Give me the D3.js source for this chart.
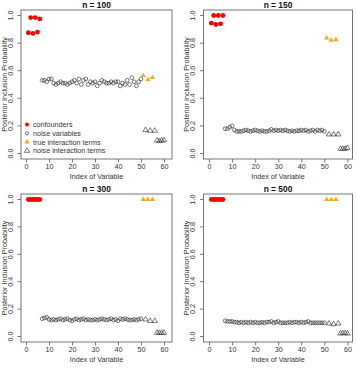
<!DOCTYPE html>
<html><head><meta charset="utf-8">
<script src="https://cdn.jsdelivr.net/npm/d3@7"></script>
<style>body{margin:0;background:#fff}svg{display:block}text{font-family:"Liberation Sans",Arial,sans-serif}</style>
</head><body>
<script>
const titles = ["n = 100", "n = 150", "n = 300", "n = 500"];
const xTicks = [0, 10, 20, 30, 40, 50, 60];
const yTicks = [0, 0.2, 0.4, 0.6, 0.8, 1.0];
const legendLabels = ["confounders", "noise variables", "true interaction terms", "noise interaction terms"];

const confIdx = [1, 2, 3, 4, 5, 6];
const noiseIdx = d3.range(7, 51);
const trueIntIdx = [51, 53, 55];
const noiseIntIdx = [52, 54, 56, 57, 58, 59, 60];

const conf100 = [0.875, 0.985, 0.87, 0.985, 0.88, 0.975];
const conf150 = [0.945, 1.0, 0.935, 1.0, 0.94, 1.0];
const conf300 = [1, 1, 1, 1, 1, 1];
const conf500 = [1, 1, 1, 1, 1, 1];

const noise100 = [0.53,0.53,0.52,0.54,0.54,0.51,0.50,0.51,0.52,0.51,0.51,0.50,0.51,0.52,0.53,0.51,0.54,0.50,0.53,0.54,0.50,0.52,0.51,0.52,0.49,0.51,0.53,0.52,0.51,0.51,0.52,0.51,0.52,0.52,0.49,0.51,0.50,0.53,0.50,0.55,0.52,0.49,0.52,0.54];
const noise150 = [0.18,0.18,0.19,0.20,0.17,0.16,0.16,0.16,0.165,0.17,0.165,0.16,0.165,0.17,0.165,0.16,0.165,0.16,0.16,0.165,0.175,0.165,0.17,0.165,0.17,0.165,0.17,0.165,0.16,0.165,0.16,0.165,0.165,0.17,0.165,0.17,0.16,0.165,0.17,0.16,0.17,0.165,0.17,0.16];
const noise300 = [0.13,0.135,0.14,0.125,0.12,0.125,0.12,0.125,0.13,0.12,0.125,0.13,0.12,0.115,0.125,0.13,0.12,0.125,0.13,0.12,0.125,0.12,0.12,0.125,0.12,0.125,0.13,0.125,0.12,0.125,0.13,0.12,0.125,0.115,0.13,0.125,0.13,0.125,0.12,0.12,0.125,0.12,0.125,0.13];
const noise500 = [0.115,0.11,0.11,0.11,0.105,0.105,0.10,0.105,0.10,0.105,0.10,0.105,0.10,0.105,0.10,0.10,0.105,0.10,0.105,0.105,0.11,0.10,0.105,0.11,0.10,0.10,0.10,0.10,0.105,0.10,0.105,0.105,0.10,0.105,0.10,0.105,0.11,0.10,0.10,0.10,0.10,0.10,0.10,0.10];

const trueInt100 = [0.565, 0.535, 0.55];
const trueInt150 = [0.837, 0.82, 0.825];
const trueInt300 = [1, 1, 1];
const trueInt500 = [1, 1, 1];

const noiseInt100 = [0.17, 0.165, 0.165, 0.095, 0.09, 0.095, 0.095];
const noiseInt150 = [0.138, 0.138, 0.138, 0.034, 0.034, 0.034, 0.04];
const noiseInt300 = [0.125, 0.114, 0.114, 0.027, 0.027, 0.027, 0.027];
const noiseInt500 = [0.095, 0.09, 0.095, 0.022, 0.025, 0.025, 0.022];

const panels = [
  {title: titles[0], conf: conf100, noise: noise100, ti: trueInt100, ni: noiseInt100, box: [21, 172, 10, 159], xd: [-2.2, 63.5], legend: true},
  {title: titles[1], conf: conf150, noise: noise150, ti: trueInt150, ni: noiseInt150, box: [203.5, 352.5, 10, 159], xd: [-2.4, 62.2]},
  {title: titles[2], conf: conf300, noise: noise300, ti: trueInt300, ni: noiseInt300, box: [21, 172, 194, 342], xd: [-2.2, 63.5]},
  {title: titles[3], conf: conf500, noise: noise500, ti: trueInt500, ni: noiseInt500, box: [203.5, 352.5, 194, 342], xd: [-2.4, 62.2]}
];

const RED = "#ff0000", ORANGE = "#f5a623", INK = "#222", AX = "#555";
const svg = d3.select("body").append("svg").attr("width", 357).attr("height", 371);
const tri = d3.symbol().type(d3.symbolTriangle).size(12);

panels.forEach(p => {
  const [x0, x1, y0, y1] = p.box;
  const x = d3.scaleLinear().domain(p.xd).range([x0, x1]);
  const y = d3.scaleLinear().domain([-0.04, 1.04]).range([y1, y0]);
  const g = svg.append("g");

  g.append("rect").attr("x", x0).attr("y", y0).attr("width", x1 - x0).attr("height", y1 - y0)
    .attr("fill", "none").attr("stroke", AX).attr("stroke-width", 0.8);

  const xa = g.append("g").attr("transform", `translate(0,${y1})`)
    .call(d3.axisBottom(x).tickValues(xTicks).tickSize(3.5).tickPadding(1.5).tickFormat(d3.format("d")));
  const ya = g.append("g").attr("transform", `translate(${x0},0)`)
    .call(d3.axisLeft(y).tickValues(yTicks).tickSize(3.5).tickFormat(d3.format(".1f")));
  [xa, ya].forEach(a => {
    a.select(".domain").remove();
    a.selectAll("line").attr("stroke", AX).attr("stroke-width", 0.8);
    a.selectAll("text").attr("fill", "#333").style("font-size", "7.2px");
  });
  ya.selectAll("text").attr("x", null).attr("dy", null).attr("text-anchor", "middle")
    .attr("transform", d => `translate(${-8.5},${y(d)}) rotate(-90)`).attr("y", null);
  ya.selectAll(".tick").attr("transform", null);
  ya.selectAll(".tick line").attr("y1", d => y(d)).attr("y2", d => y(d));

  g.append("text").attr("x", (x0 + x1) / 2).attr("y", y0 - 2).attr("text-anchor", "middle")
    .style("font-size", "8.4px").style("font-weight", "bold").attr("fill", "#111").text(p.title);
  g.append("text").attr("x", (x0 + x1) / 2).attr("y", y1 + 20).attr("text-anchor", "middle")
    .style("font-size", "7.2px").attr("fill", "#333").text("Index of Variable");
  g.append("text").attr("transform", `translate(${x0 - 14.5},${(y0 + y1) / 2}) rotate(-90)`)
    .attr("text-anchor", "middle").style("font-size", "7.2px").attr("fill", "#333").text("Posterior Inclusion Probability");

  g.selectAll(".noise").data(noiseIdx.map((d, i) => [d, p.noise[i]])).join("circle")
    .attr("cx", d => x(d[0])).attr("cy", d => y(d[1])).attr("r", 1.9)
    .attr("fill", "none").attr("stroke", INK).attr("stroke-width", 0.6);
  g.selectAll(".ni").data(noiseIntIdx.map((d, i) => [d, p.ni[i]])).join("path")
    .attr("d", tri).attr("transform", d => `translate(${x(d[0])},${y(d[1])})`)
    .attr("fill", "none").attr("stroke", INK).attr("stroke-width", 0.6);
  g.selectAll(".ti").data(trueIntIdx.map((d, i) => [d, p.ti[i]])).join("path")
    .attr("d", tri).attr("transform", d => `translate(${x(d[0])},${y(d[1])})`)
    .attr("fill", ORANGE);
  g.selectAll(".conf").data(confIdx.map((d, i) => [d, p.conf[i]])).join("circle")
    .attr("cx", d => x(d[0])).attr("cy", d => y(d[1])).attr("r", 2.4).attr("fill", RED);

  if (p.legend) {
    const lx = 27, tx = 33, ly = [124.5, 133.3, 142, 150.8];
    legendLabels.forEach((lab, i) => {
      g.append("text").attr("x", tx).attr("y", ly[i]).attr("dy", "0.35em")
        .style("font-size", "7.2px").attr("fill", "#333").text(lab);
    });
    g.append("circle").attr("cx", lx).attr("cy", ly[0]).attr("r", 1.9).attr("fill", RED);
    g.append("circle").attr("cx", lx).attr("cy", ly[1]).attr("r", 1.6).attr("fill", "none").attr("stroke", INK).attr("stroke-width", 0.6);
    g.append("path").attr("d", tri).attr("transform", `translate(${lx},${ly[2]})`).attr("fill", ORANGE);
    g.append("path").attr("d", tri).attr("transform", `translate(${lx},${ly[3]})`).attr("fill", "none").attr("stroke", INK).attr("stroke-width", 0.6);
  }
});
</script>
</body></html>
